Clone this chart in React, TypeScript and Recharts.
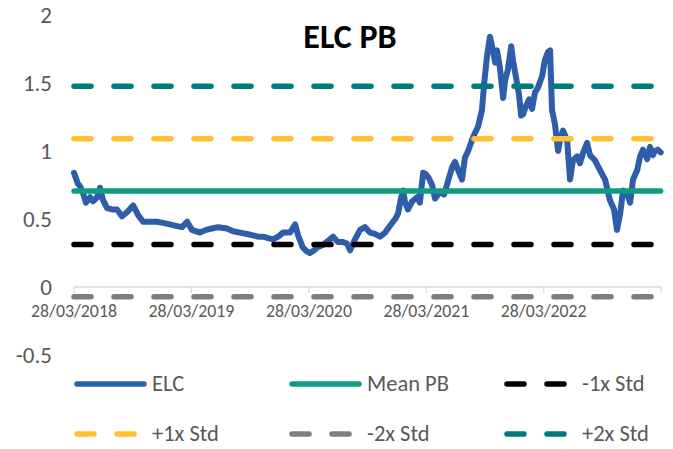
import { Legend, Line, LineChart, ReferenceLine, XAxis, YAxis } from "recharts";

const ELC_DATES = [
  "2018-03-28", "2018-04-09", "2018-04-16", "2018-04-25", "2018-05-04", "2018-05-17", "2018-05-26", "2018-06-08",
  "2018-06-17", "2018-06-26", "2018-07-09", "2018-07-24", "2018-08-09", "2018-08-24", "2018-09-09", "2018-09-28",
  "2018-10-13", "2018-10-29", "2018-11-19", "2018-12-11", "2019-01-02", "2019-01-21", "2019-02-08", "2019-02-27",
  "2019-03-15", "2019-03-30", "2019-04-24", "2019-05-13", "2019-05-31", "2019-06-19", "2019-07-17", "2019-08-05",
  "2019-08-26", "2019-09-17", "2019-10-06", "2019-10-21", "2019-11-06", "2019-11-22", "2019-12-07", "2019-12-23",
  "2020-01-07", "2020-01-29", "2020-02-14", "2020-02-23", "2020-03-09", "2020-03-22", "2020-03-31", "2020-04-13",
  "2020-04-22", "2020-05-11", "2020-06-01", "2020-06-11", "2020-06-26", "2020-07-12", "2020-07-24", "2020-08-03",
  "2020-08-18", "2020-09-03", "2020-09-18", "2020-10-04", "2020-10-19", "2020-11-04", "2020-11-20", "2020-12-05",
  "2020-12-21", "2020-12-30", "2021-01-08", "2021-01-15", "2021-01-21", "2021-01-30", "2021-02-12", "2021-02-27",
  "2021-03-08", "2021-03-18", "2021-03-27", "2021-04-05", "2021-04-15", "2021-04-24", "2021-05-10", "2021-05-22",
  "2021-05-31", "2021-06-16", "2021-06-25", "2021-07-05", "2021-07-17", "2021-07-26", "2021-08-05", "2021-08-20",
  "2021-09-05", "2021-09-17", "2021-09-24", "2021-10-03", "2021-10-12", "2021-10-22", "2021-10-28", "2021-11-03",
  "2021-11-12", "2021-11-22", "2021-11-28", "2021-12-07", "2021-12-17", "2021-12-23", "2022-01-01", "2022-01-10",
  "2022-01-17", "2022-01-23", "2022-02-01", "2022-02-11", "2022-02-20", "2022-03-01", "2022-03-11", "2022-03-23",
  "2022-04-01", "2022-04-11", "2022-04-17", "2022-04-23", "2022-05-02", "2022-05-12", "2022-05-18", "2022-05-27",
  "2022-06-09", "2022-06-18", "2022-06-27", "2022-07-10", "2022-07-19", "2022-07-29", "2022-08-10", "2022-08-19",
  "2022-09-04", "2022-09-19", "2022-10-05", "2022-10-20", "2022-11-02", "2022-11-11", "2022-11-21", "2022-11-30",
  "2022-12-12", "2022-12-22", "2022-12-31", "2023-01-13", "2023-01-22", "2023-01-31", "2023-02-13", "2023-02-22",
  "2023-03-03", "2023-03-09", "2023-03-18", "2023-03-27",
];

const ELC_VALUES = [
  0.84, 0.76, 0.74, 0.69, 0.62, 0.66, 0.63, 0.66,
  0.73, 0.64, 0.58, 0.57, 0.57, 0.52, 0.55, 0.6,
  0.53, 0.48, 0.48, 0.48, 0.47, 0.46, 0.45, 0.44,
  0.48, 0.42, 0.4, 0.42, 0.43, 0.44, 0.43, 0.41,
  0.4, 0.39, 0.38, 0.37, 0.37, 0.36, 0.35, 0.37,
  0.4, 0.4, 0.46, 0.38, 0.29, 0.26, 0.25, 0.27,
  0.29, 0.31, 0.35, 0.37, 0.33, 0.33, 0.32, 0.27,
  0.35, 0.42, 0.44, 0.4, 0.39, 0.37, 0.4, 0.45,
  0.5, 0.54, 0.65, 0.71, 0.62, 0.57, 0.63, 0.66,
  0.62, 0.84, 0.83, 0.8, 0.75, 0.65, 0.7, 0.68,
  0.75, 0.88, 0.92, 0.86, 0.79, 0.95, 1.0, 1.1,
  1.18, 1.3, 1.5, 1.7, 1.84, 1.73, 1.65, 1.74,
  1.61, 1.39, 1.52, 1.6, 1.77, 1.66, 1.54, 1.42,
  1.26, 1.27, 1.33, 1.38, 1.31, 1.43, 1.47, 1.55,
  1.67, 1.73, 1.74, 1.3, 1.2, 1.0, 1.08, 1.15,
  1.08, 0.79, 0.93, 0.96, 0.91, 0.99, 1.06, 0.97,
  0.93, 0.86, 0.79, 0.64, 0.57, 0.42, 0.54, 0.71,
  0.69, 0.62, 0.79, 0.86, 0.96, 1.01, 0.94, 1.03,
  0.97, 1.0, 1.01, 0.99,
];

// horizontal bands
const MEAN_PB = 0.705;
const MINUS_1X = 0.313;
const PLUS_1X = 1.09;
const MINUS_2X = -0.071;
const PLUS_2X = 1.477;

const X_TICK_DATES = ["2018-03-28", "2019-03-28", "2020-03-28", "2021-03-28", "2022-03-28", "2023-03-28"];
const X_TICK_LABELS = ["28/03/2018", "28/03/2019", "28/03/2020", "28/03/2021", "28/03/2022", ""];
const Y_TICKS = [-0.5, 0, 0.5, 1, 1.5, 2];

const SERIES = [
  { key: "elc", name: "ELC", color: "#2E5DA9", dash: undefined as string | undefined },
  { key: "mean", name: "Mean PB", color: "#0F9C82", dash: undefined },
  { key: "m1", name: "-1x Std", color: "#000000", dash: "17 23" },
  { key: "p1", name: "+1x Std", color: "#FFC12E", dash: "17 23" },
  { key: "m2", name: "-2x Std", color: "#7F7F7F", dash: "17 23" },
  { key: "p2", name: "+2x Std", color: "#007A7D", dash: "17 23" },
];

const FONT = "Carlito, Lato, sans-serif";
const TEXT = "#595959";

const toT = (s: string) => Date.parse(s + "T00:00:00Z");

const data = ELC_DATES.map((d, i) => ({
  t: toT(d),
  elc: ELC_VALUES[i],
  mean: MEAN_PB,
  m1: MINUS_1X,
  p1: PLUS_1X,
  m2: MINUS_2X,
  p2: PLUS_2X,
}));

const W = 673;
const H = 449;
const TOP = 15;
const BOTTOM = 355;
const Y_MIN = -0.5;
const Y_MAX = 2;
const ZERO_Y = TOP + ((BOTTOM - TOP) * Y_MAX) / (Y_MAX - Y_MIN);

function DateTick(props: any) {
  const { x, payload } = props;
  const i = X_TICK_DATES.map(toT).indexOf(payload.value);
  return (
    <g>
      <line x1={x} x2={x} y1={ZERO_Y} y2={ZERO_Y + 6} stroke="#d9d9d9" strokeWidth={1.2} />
      <text
        x={x}
        y={ZERO_Y + 30}
        textAnchor="middle"
        fill={TEXT}
        fontSize={17.8}
        fontFamily={FONT}
      >
        {i >= 0 ? X_TICK_LABELS[i] : ""}
      </text>
    </g>
  );
}

function LegendBox() {
  return (
    <div
      style={{
        display: "grid",
        gridTemplateColumns: "215px 215px 215px",
        gridTemplateRows: "24px 24px",
        rowGap: 26,
        paddingLeft: 74,
        fontFamily: FONT,
        fontSize: 22.5,
        lineHeight: "24px",
        color: TEXT,
      }}
    >
      {SERIES.map((s) => (
        <div key={s.key} style={{ display: "flex", alignItems: "center", height: 24 }}>
          <svg width={78} height={10} style={{ flex: "none" }}>
            <line
              x1={3}
              x2={s.dash ? 66 : 70}
              y1={5}
              y2={5}
              stroke={s.color}
              strokeWidth={5.5}
              strokeLinecap="round"
              strokeDasharray={s.dash}
            />
          </svg>
          <span>{s.name}</span>
        </div>
      ))}
    </div>
  );
}

export default function App() {
  return (
    <div
      style={{
        position: "absolute",
        left: 0,
        top: 0,
        width: W,
        height: H,
        background: "#fff",
        overflow: "hidden",
      }}
    >
      <LineChart
        width={W}
        height={H}
        data={data}
        margin={{ top: TOP, right: 12, left: 0, bottom: H - BOTTOM - 1 }}
      >
        <XAxis
          dataKey="t"
          type="number"
          domain={[toT(X_TICK_DATES[0]), toT(X_TICK_DATES[5])]}
          ticks={X_TICK_DATES.map(toT)}
          axisLine={false}
          tickLine={false}
          tickSize={0}
          tickMargin={0}
          height={1}
          tick={<DateTick />}
          interval={0}
        />
        <YAxis
          type="number"
          domain={[Y_MIN, Y_MAX]}
          ticks={Y_TICKS}
          width={74}
          axisLine={false}
          tickLine={false}
          tickSize={0}
          tickMargin={22}
          tick={{ fill: TEXT, fontSize: 23, fontFamily: FONT }}
        />
        <ReferenceLine y={0} stroke="#d9d9d9" strokeWidth={1.5} />
        {SERIES.map((s) => (
          <Line
            key={s.key}
            dataKey={s.key}
            name={s.name}
            type="linear"
            stroke={s.color}
            strokeWidth={s.key === "elc" ? 6 : 5.5}
            strokeDasharray={s.dash}
            strokeLinecap="round"
            strokeLinejoin="round"
            dot={false}
            activeDot={false}
            isAnimationActive={false}
          />
        ))}
        <Legend
          layout="horizontal"
          verticalAlign="middle"
          align="center"
          wrapperStyle={{ top: 372, left: 0, width: W }}
          content={<LegendBox />}
        />
      </LineChart>
      <div
        style={{
          position: "absolute",
          left: 250,
          top: 20,
          width: 200,
          textAlign: "center",
          fontFamily: FONT,
          fontWeight: 700,
          fontSize: 34,
          lineHeight: "34px",
          color: "#000",
        }}
      >
        ELC PB
      </div>
    </div>
  );
}
